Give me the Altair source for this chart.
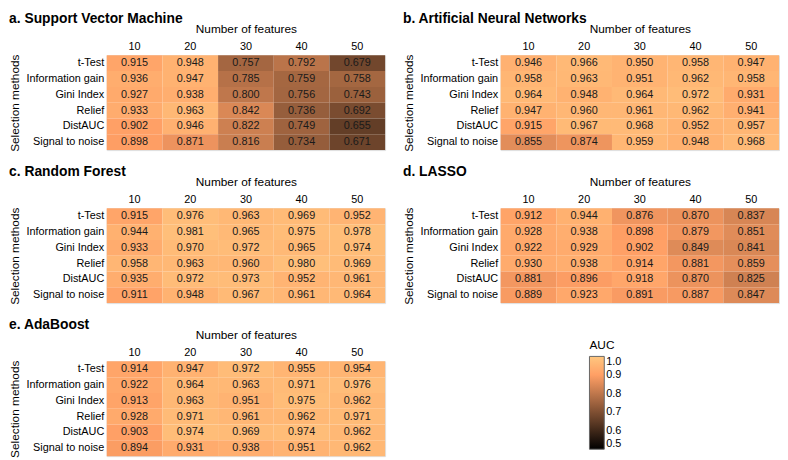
import altair as alt
import pandas as pd

features = ["10", "20", "30", "40", "50"]
methods = ["t-Test", "Information gain", "Gini Index", "Relief", "DistAUC", "Signal to noise"]

svm = [
    [0.915, 0.948, 0.757, 0.792, 0.679],
    [0.936, 0.947, 0.785, 0.759, 0.758],
    [0.927, 0.938, 0.800, 0.756, 0.743],
    [0.933, 0.963, 0.842, 0.736, 0.692],
    [0.902, 0.946, 0.822, 0.749, 0.655],
    [0.898, 0.871, 0.816, 0.734, 0.671],
]
ann = [
    [0.946, 0.966, 0.950, 0.958, 0.947],
    [0.958, 0.963, 0.951, 0.962, 0.958],
    [0.964, 0.948, 0.964, 0.972, 0.931],
    [0.947, 0.960, 0.961, 0.962, 0.941],
    [0.915, 0.967, 0.968, 0.952, 0.957],
    [0.855, 0.874, 0.959, 0.948, 0.968],
]
rf = [
    [0.915, 0.976, 0.963, 0.969, 0.952],
    [0.944, 0.981, 0.965, 0.975, 0.978],
    [0.933, 0.970, 0.972, 0.965, 0.974],
    [0.958, 0.963, 0.960, 0.980, 0.969],
    [0.935, 0.972, 0.973, 0.952, 0.961],
    [0.911, 0.948, 0.967, 0.961, 0.964],
]
lasso = [
    [0.912, 0.944, 0.876, 0.870, 0.837],
    [0.928, 0.938, 0.898, 0.879, 0.851],
    [0.922, 0.929, 0.902, 0.849, 0.841],
    [0.930, 0.938, 0.914, 0.881, 0.859],
    [0.881, 0.896, 0.918, 0.870, 0.825],
    [0.889, 0.923, 0.891, 0.887, 0.847],
]
ada = [
    [0.914, 0.947, 0.972, 0.955, 0.954],
    [0.922, 0.964, 0.963, 0.971, 0.976],
    [0.913, 0.963, 0.951, 0.975, 0.962],
    [0.928, 0.971, 0.961, 0.962, 0.971],
    [0.903, 0.974, 0.969, 0.974, 0.962],
    [0.894, 0.931, 0.938, 0.951, 0.962],
]
legend_ticks = [0.5, 0.6, 0.7, 0.8, 0.9, 1.0]

FONT = "Liberation Sans"
W, H = 282, 96

# MATLAB-like "copper" colormap over AUC 0.5..1.0
color_scale = alt.Scale(domain=[0.5, 0.9, 1.0],
                        range=["#000000", "#ff9f65", "#ffc77f"],
                        interpolate="rgb")


def panel(title, values, legend=None):
    df = pd.DataFrame([
        {"method": m, "features": f, "auc": values[i][j]}
        for i, m in enumerate(methods) for j, f in enumerate(features)
    ])
    x = alt.X("features:N", sort=features,
              scale=alt.Scale(paddingInner=0, paddingOuter=0),
              axis=alt.Axis(orient="top", title="Number of features", labelAngle=0,
                            ticks=False, domain=False, labelPadding=4, titlePadding=5,
                            labelFontSize=11, titleFontSize=12, titleFontWeight="normal",
                            labelFont=FONT, titleFont=FONT, labelColor="#000", titleColor="#000"))
    y = alt.Y("method:N", sort=methods,
              scale=alt.Scale(paddingInner=0, paddingOuter=0),
              axis=alt.Axis(title="Selection methods", ticks=False, domain=False,
                            labelPadding=3, titlePadding=4,
                            labelFontSize=11, titleFontSize=12, titleFontWeight="normal",
                            labelFont=FONT, titleFont=FONT, labelColor="#000", titleColor="#000"))
    rect = alt.Chart(df).mark_rect(strokeWidth=0).encode(
        x=x, y=y,
        color=alt.Color("auc:Q", scale=color_scale, legend=legend),
    )
    text = alt.Chart(df).mark_text(fontSize=11, font=FONT, color="#1a1a1a").encode(
        x=alt.X("features:N", sort=features),
        y=alt.Y("method:N", sort=methods),
        text=alt.Text("auc:Q", format=".3f"),
    )
    return alt.layer(rect, text).properties(
        width=W, height=H,
        title=alt.TitleParams(title, anchor="start", fontSize=14, fontWeight="bold",
                              font=FONT, color="#000", offset=-3),
    )


auc_legend = alt.Legend(
    title="AUC", orient="none", legendX=489, legendY=-22, direction="vertical",
    gradientLength=94, gradientThickness=15, values=legend_ticks, format=".1f",
    labelFontSize=11, titleFontSize=12, titleFontWeight="normal",
    labelFont=FONT, titleFont=FONT, labelColor="#000", titleColor="#000",
    gradientStrokeColor="#666", gradientStrokeWidth=1,
)

a = panel("a. Support Vector Machine", svm)
b = panel("b. Artificial Neural Networks", ann)
c = panel("c. Random Forest", rf)
d = panel("d. LASSO", lasso)
e = panel("e. AdaBoost", ada, legend=auc_legend)

row1 = alt.hconcat(a, b, spacing=16).resolve_scale(color="independent").resolve_legend(color="independent")
row2 = alt.hconcat(c, d, spacing=16).resolve_scale(color="independent").resolve_legend(color="independent")

chart = alt.vconcat(row1, row2, e, spacing=12).resolve_scale(
    color="independent").resolve_legend(color="independent").properties(
    padding=0).configure_view(stroke=None).configure(font=FONT)

chart.save("out.html", embed_options={"renderer": "svg", "actions": False})
